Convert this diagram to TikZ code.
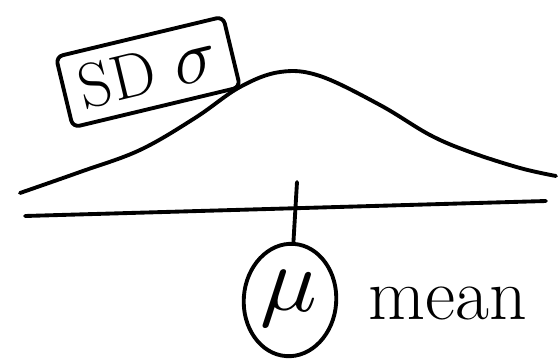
\documentclass[tikz,border=0pt]{standalone}
\usetikzlibrary{positioning, shapes.geometric, calc}
\tikzset{
	pen/.style={line width=2.2pt, line cap=round, line join=round, draw=black},
	sdbox/.style={rectangle, rounded corners=4pt, pen, rotate=13.5, minimum width=3.44cm, minimum height=1.45cm, inner sep=1pt, align=center, font=\fontsize{36}{38}\selectfont},
	mucircle/.style={ellipse, pen, rotate=-4, minimum width=1.85cm, minimum height=2.25cm, inner sep=0pt},
	meanlabel/.style={font=\fontsize{42}{44}\selectfont, inner sep=0pt},
}
\newcommand{\bigsym}[2]{\scalebox{#1}{$#2$}}

\begin{document}
\begin{tikzpicture}[x=0.02cm, y=-0.02cm]
	\useasboundingbox (0,0) rectangle (559,359);
	% bell curve
	\draw[pen] plot[smooth, tension=0.6] coordinates {(20,193) (80,172) (140,150) (195,118) (240,87) (280,72) (320,76) (380,105) (430,135) (470,152) (520,168) (556,176)};
	\node[sdbox, fill=white] (sd) at (148,72) {SD\hspace{0.3em}\bigsym{1.7}{\sigma}};
	% axis and mean tick
	\coordinate (axl) at (25,216);
	\coordinate (axr) at (546,201);
	\draw[pen] (axl) -- (axr);
	\coordinate (ticktop) at (297,182);
	\node[mucircle] (mu) at (290,300) {\bigsym{5.2}{\mu}};
	\node[meanlabel, right=0.6cm of mu] (mean) {mean};
	\draw[pen] (ticktop) -- (mu);
\end{tikzpicture}
\end{document}
